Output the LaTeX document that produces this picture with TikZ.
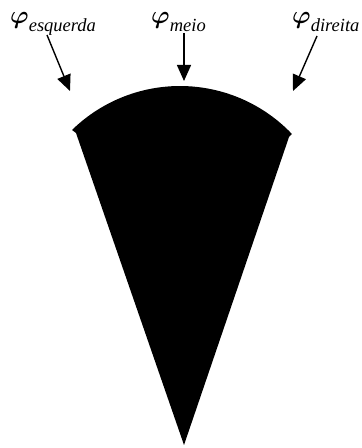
\documentclass[tikz,border=0pt]{standalone}
\usepackage{fontspec}
\usepackage{bm}
\setmainfont{Liberation Serif}
\usetikzlibrary{arrows.meta}
\newcommand{\philabel}[1]{{\fontsize{33}{33}\selectfont$\bm{\varphi}$}\kern0pt\raisebox{-8pt}{\fontsize{18.5}{18.5}\selectfont\itshape #1}}
\tikzset{
  lbl/.style={inner sep=0pt, anchor=base west},
  pointer/.style={line width=1.4pt, -{Triangle[length=16pt,width=14pt]}},
}
\begin{document}
\begin{tikzpicture}[x=1pt,y=1pt]
\useasboundingbox (0,0) rectangle (362,448);
% labels
\node[lbl] (esq) at (10,424) {\philabel{esquerda}};
\node[lbl] (meio) at (151,424) {\philabel{meio}};
\node[lbl] (dir) at (292,424) {\philabel{direita}};
% arrow ends
\coordinate (s1) at (47,413);
\coordinate (t1) at (70,357);
\coordinate (s2) at (184,415);
\coordinate (t2) at (184,367);
\coordinate (s3) at (317,412);
\coordinate (t3) at (293,357);
\draw[pointer] (s1) -- (t1);
\draw[pointer] (s2) -- (t2);
\draw[pointer] (s3) -- (t3);
% sector shape
\fill[black] (180,207.4) ++(134.3:154.6) arc[start angle=134.3, end angle=43.6, radius=154.6]
  -- (289,311) -- (184,3) -- (76,315) -- cycle;
\end{tikzpicture}
\end{document}
